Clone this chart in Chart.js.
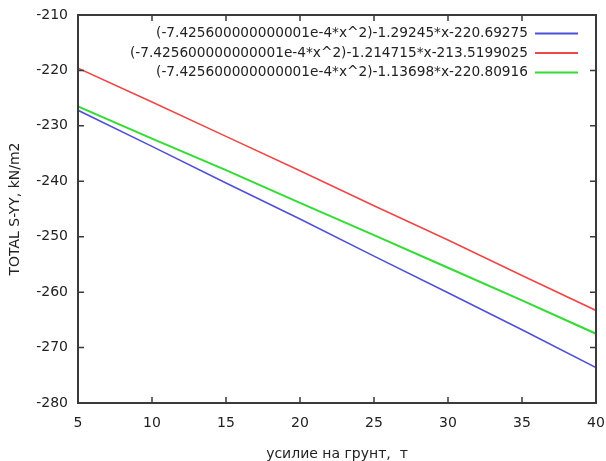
<!DOCTYPE html>
<html>
<head>
<meta charset="utf-8">
<script src="https://cdn.jsdelivr.net/npm/chart.js@4"></script>
<style>
  html, body { margin: 0; padding: 0; background: #fff; }
  #wrap { width: 606px; height: 461px; }
</style>
</head>
<body>
<div id="wrap"><canvas id="c" width="606" height="461"></canvas></div>
<script>
// values at each x tick
var xValues = [5, 10, 15, 20, 25, 30, 35, 40];
var blueValues = [-227.2, -233.7, -240.3, -246.8, -253.5, -260.1, -266.8, -273.6];
var redValues = [-219.6, -225.7, -231.9, -238.1, -244.4, -250.6, -257.0, -263.3];
var greenValues = [-226.5, -232.3, -238.0, -243.9, -249.7, -255.6, -261.5, -267.5];
var seriesLabels = [
    "(-7.425600000000001e-4*x^2)-1.29245*x-220.69275",
    "(-7.425600000000001e-4*x^2)-1.214715*x-213.5199025",
    "(-7.425600000000001e-4*x^2)-1.13698*x-220.80916"
];
var xTitle = "усилие на грунт,  т";
var yTitle = "TOTAL S-YY, kN/m2";

var FONT = "'DejaVu Sans', sans-serif";
var TEXT = "#222";

function toPoints(ys) {
    return xValues.map(function(x, i) { return { x: x, y: ys[i] }; });
}

// gnuplot style frame with inward ticks on all four sides
var framePlugin = {
    id: 'frame',
    afterDatasetsDraw: function(chart) {
        var ctx = chart.ctx;
        var a = chart.chartArea;
        var xs = chart.scales.x, ys = chart.scales.y;
        var len = 6;
        ctx.save();
        ctx.strokeStyle = "#3a3a3a";
        ctx.lineWidth = 1.5;
        ctx.beginPath();
        xs.ticks.forEach(function(t) {
            var px = xs.getPixelForValue(t.value);
            if (px <= a.left + 1 || px >= a.right - 1) return;
            ctx.moveTo(px, a.bottom); ctx.lineTo(px, a.bottom - len);
            ctx.moveTo(px, a.top); ctx.lineTo(px, a.top + len);
        });
        ys.ticks.forEach(function(t) {
            var py = ys.getPixelForValue(t.value);
            if (py <= a.top + 1 || py >= a.bottom - 1) return;
            ctx.moveTo(a.left, py); ctx.lineTo(a.left + len, py);
            ctx.moveTo(a.right, py); ctx.lineTo(a.right - len, py);
        });
        ctx.stroke();
        ctx.lineWidth = 2;
        ctx.strokeRect(a.left, a.top, a.right - a.left, a.bottom - a.top);
        ctx.restore();
    }
};

// legend inside the plot, text then sample line, right aligned
var keyPlugin = {
    id: 'key',
    afterDatasetsDraw: function(chart) {
        var ctx = chart.ctx;
        var a = chart.chartArea;
        ctx.save();
        ctx.font = "13.7px " + FONT;
        ctx.textAlign = "right";
        ctx.textBaseline = "middle";
        chart.data.datasets.forEach(function(ds, i) {
            var y = a.top + 18.5 + i * 19.5;
            ctx.fillStyle = TEXT;
            ctx.fillText(ds.label, a.right - 68, y);
            ctx.strokeStyle = ds.borderColor;
            ctx.lineWidth = 2;
            ctx.beginPath();
            ctx.moveTo(a.right - 61, y);
            ctx.lineTo(a.right - 18, y);
            ctx.stroke();
        });
        ctx.restore();
    }
};

var ctx = document.getElementById('c').getContext('2d');
var chart = new Chart(ctx, {
    type: 'line',
    data: {
        datasets: [{
            label: seriesLabels[0],
            data: toPoints(blueValues),
            borderColor: 'rgb(80, 80, 215)',
            borderWidth: 1.6,
            pointRadius: 0,
            tension: 0
        }, {
            label: seriesLabels[1],
            data: toPoints(redValues),
            borderColor: 'rgb(240, 70, 70)',
            borderWidth: 1.6,
            pointRadius: 0,
            tension: 0
        }, {
            label: seriesLabels[2],
            data: toPoints(greenValues),
            borderColor: 'rgb(50, 220, 50)',
            borderWidth: 2,
            pointRadius: 0,
            tension: 0
        }]
    },
    options: {
        responsive: false,
        animation: false,
        layout: { padding: { top: 15, right: 0, left: 0, bottom: 0 } },
        plugins: {
            legend: { display: false },
            tooltip: { enabled: false }
        },
        scales: {
            x: {
                type: 'linear',
                min: 5,
                max: 40,
                grid: { display: false, drawTicks: false },
                border: { display: false },
                ticks: {
                    stepSize: 5,
                    padding: 12,
                    maxRotation: 0,
                    color: TEXT,
                    font: { family: FONT, size: 14 }
                },
                title: {
                    display: true,
                    text: xTitle,
                    color: TEXT,
                    padding: { top: 0, bottom: 0 },
                    font: { family: FONT, size: 14, lineHeight: 1 }
                },
                afterFit: function(s) {
                    s.height = 58;
                    s.paddingLeft = 0;
                    s.paddingRight = 10;
                }
            },
            y: {
                min: -280,
                max: -210,
                grid: { display: false, drawTicks: false },
                border: { display: false },
                ticks: {
                    stepSize: 10,
                    padding: 10,
                    color: TEXT,
                    font: { family: FONT, size: 14 }
                },
                title: {
                    display: true,
                    text: yTitle,
                    color: TEXT,
                    padding: { top: 8, bottom: 0 },
                    font: { family: FONT, size: 14, lineHeight: 1 }
                },
                afterFit: function(s) {
                    s.width = 78;
                    s.paddingTop = 0;
                    s.paddingBottom = 0;
                }
            }
        }
    },
    plugins: [framePlugin, keyPlugin]
});
</script>
</body>
</html>
